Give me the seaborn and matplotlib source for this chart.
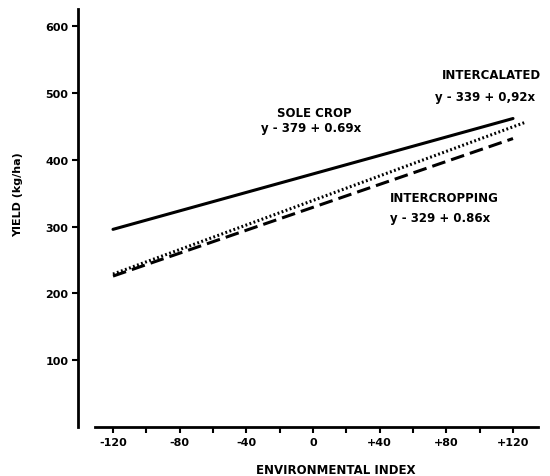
import pandas as pd
import seaborn as sns
import matplotlib.pyplot as plt

# values (line end points)
sole_x = [-120, 120]
sole_y = [296, 462]
intercalated_x = [-120, 127]
intercalated_y = [229, 456]
intercropping_x = [-120, 120]
intercropping_y = [226, 432]

x_ticks = [-120, -80, -40, 0, 40, 80, 120]
x_tick_labels = ['-120', '-80', '-40', '0', '+40', '+80', '+120']
y_ticks = [100, 200, 300, 400, 500, 600]

sns.set_style("ticks")
plt.rcParams['font.family'] = ['DejaVu Sans']
plt.rcParams['text.color'] = 'black'
plt.rcParams['xtick.color'] = 'black'
plt.rcParams['ytick.color'] = 'black'
plt.rcParams['axes.edgecolor'] = 'black'

df = pd.concat([
    pd.DataFrame({'x': sole_x, 'y': sole_y, 'system': 'sole'}),
    pd.DataFrame({'x': intercalated_x, 'y': intercalated_y, 'system': 'intercalated'}),
    pd.DataFrame({'x': intercropping_x, 'y': intercropping_y, 'system': 'intercropping'}),
])

fig = plt.figure(figsize=(5.5, 4.77), dpi=100)
ax = fig.add_axes([78 / 550, 49 / 477, 460 / 550, 418 / 477])

styles = {
    'sole': dict(ls='-', lw=2.2),
    'intercalated': dict(ls=(0, (0.6, 0.8)), lw=2.2),
    'intercropping': dict(ls=(0, (4.5, 2.0)), lw=2.2),
}
for name, sub in df.groupby('system', sort=False):
    sns.lineplot(data=sub, x='x', y='y', ax=ax, color='black', **styles[name])

ax.set_xlim(-141, 135)
ax.set_ylim(0, 626)
ax.spines['top'].set_visible(False)
ax.spines['right'].set_visible(False)
ax.spines['left'].set_linewidth(2.0)
ax.spines['bottom'].set_linewidth(2.0)
ax.spines['bottom'].set_bounds(-131, 135)

ax.set_xticks(x_ticks)
ax.set_xticklabels(x_tick_labels)
ax.set_xticks([-100, -60, -20, 20, 60, 100], minor=True)
ax.set_yticks(y_ticks)
ax.tick_params(axis='both', which='major', length=4, width=1.5, labelsize=8, pad=3)
ax.tick_params(axis='x', which='minor', length=4, width=1.5)
for lab in ax.get_xticklabels() + ax.get_yticklabels():
    lab.set_fontweight('bold')
ax.set_xlabel('')
ax.set_ylabel('')

fig.text(336 / 550, 1 - 471 / 477, 'ENVIRONMENTAL INDEX', fontsize=8.5,
         fontweight='bold', ha='center', va='center')
fig.text(18 / 550, 1 - 195 / 477, 'YIELD (kg/ha)', fontsize=8,
         fontweight='bold', ha='center', va='center', rotation=90)

txt = dict(fontsize=8.5, fontweight='bold', ha='center', va='center')
ax.text(1, 471, 'SOLE CROP', **txt)
ax.text(-1, 449, 'y - 379 + 0.69x', **txt)
ax.text(107, 528, 'INTERCALATED', **txt)
ax.text(103, 495, 'y - 339 + 0,92x', **txt)
ax.text(79, 344, 'INTERCROPPING', **txt)
ax.text(76, 314, 'y - 329 + 0.86x', **txt)

plt.savefig('out.png', dpi=100)
plt.close()
